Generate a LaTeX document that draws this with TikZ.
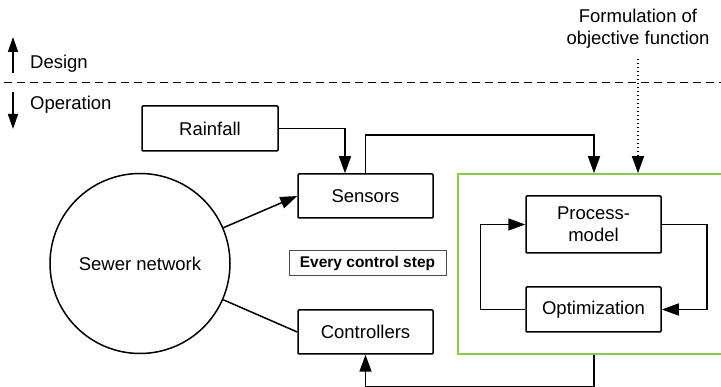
\documentclass[tikz,border=0pt]{standalone}
\usepackage{fontspec}
\setmainfont{Liberation Sans}
\usetikzlibrary{arrows.meta,calc}
\definecolor{boxgreen}{RGB}{140,200,75}
\begin{document}
\begin{tikzpicture}[x=1pt,y=-1pt,
  every node/.style={font=\fontsize{18.5}{22}\selectfont},
  box/.style={draw, line width=1.5pt, rounded corners=1pt, minimum width=135pt, inner sep=0pt, align=center},
  greenbox/.style={draw=boxgreen, line width=1.6pt, minimum width=268pt, minimum height=180pt, inner sep=0pt},
  stepbox/.style={draw=black!70, line width=1pt, minimum width=157pt, minimum height=25pt, inner sep=0pt, font=\fontsize{15.5}{18}\selectfont\bfseries},
  arr/.style={line width=1.5pt, -{Triangle[length=17pt,width=12pt]}},
  conn/.style={line width=1.5pt}
]
\useasboundingbox (0,0) rectangle (721,387);

% design / operation divider
\coordinate (dl) at (4,83);
\coordinate (dr) at (721,83);
\draw[line width=1pt, dash pattern=on 8pt off 5pt] (dl) -- (dr);
\node[anchor=west, inner sep=0pt] (design) at (30,64) {Design};
\node[anchor=west, inner sep=0pt] (oper) at (30,105) {Operation};
\coordinate (du1) at (13,73);
\coordinate (du2) at (13,37);
\coordinate (od1) at (13,92);
\coordinate (od2) at (13,129);
\draw[line width=1.6pt, -{Triangle[length=15pt,width=10pt]}] (du1) -- (du2);
\draw[line width=1.6pt, -{Triangle[length=15pt,width=10pt]}] (od1) -- (od2);

% nodes
\node[box, minimum width=136pt, minimum height=45pt] (rain) at (210,128.5) {Rainfall};
\node[box, minimum height=44pt] (sens) at (365.5,196) {Sensors};
\node[box, minimum height=44pt] (ctrl) at (365.5,332) {Controllers};
\node[draw, circle, line width=1.5pt, minimum size=180pt, inner sep=0pt] (sewer) at (140,263.5) {Sewer network};
\node[stepbox] (step) at (367.5,263.5) {Every control step};
\node[greenbox] (green) at (592,264) {};
\node[box, minimum height=57pt] (proc) at (593.5,224.5) {Process-\\model};
\node[box, minimum height=45pt] (opt) at (593.5,309.5) {Optimization};
\node[align=center, inner sep=0pt] (form) at (638,29) {Formulation of\\objective function};

% connectors
\draw[arr] (rain.east) -| ([xshift=-20.5pt]sens.north);
\draw[arr] (sens.north) -- ++(0,-38) -| ([xshift=2pt]green.north);
\draw[arr, dash pattern=on 1.5pt off 2.5pt] ([yshift=-10pt]form.south) -- (form.south |- green.north);
\draw[arr] (sewer) -- (sens.west);
\draw[conn] (sewer) -- (ctrl.west);
\draw[arr] (opt.west) -- ++(-45,0) |- (proc.west);
\draw[arr] (proc.east) -- ++(45,0) |- (opt.east);
\draw[arr] ([xshift=2pt]green.south) -- ++(0,32) -| (ctrl.south);
\end{tikzpicture}
\end{document}
